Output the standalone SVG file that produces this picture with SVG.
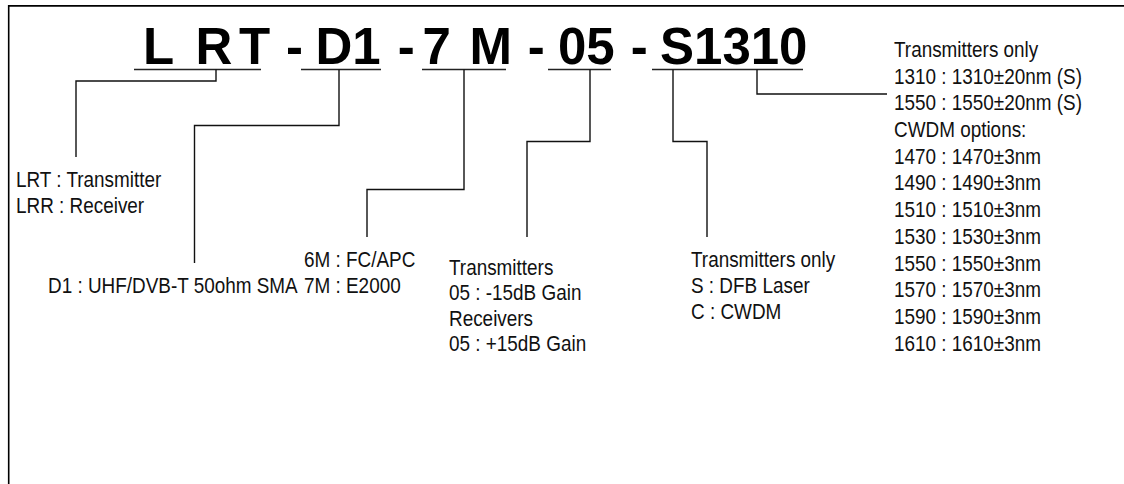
<svg xmlns="http://www.w3.org/2000/svg" width="1124" height="484" viewBox="0 0 1124 484">
<style>
.title{font-family:"Liberation Sans",Arial,sans-serif;font-weight:bold;font-size:51px;fill:#000}
.lbl{font-family:"Liberation Sans",Arial,sans-serif;font-size:22px;fill:#111}
.ul{stroke:#222;stroke-width:1.3;fill:none}
.conn{stroke:#111;stroke-width:1.4;fill:none}
.frame{stroke:#000;fill:none}
</style>
<rect x="0" y="0" width="1124" height="484" fill="#fff"/>
<g id="frame">
<line class="frame" x1="8" y1="5.8" x2="1124" y2="5.8" stroke-width="1.8"/>
<line class="frame" x1="8.7" y1="5" x2="8.7" y2="484" stroke-width="1.6"/>
</g>
<g id="title">
<text class="title" y="64"><tspan x="143">L</tspan><tspan x="195.4">R</tspan><tspan x="239">T</tspan><tspan x="286">-</tspan><tspan x="315.5">D1</tspan><tspan x="397.7">-</tspan><tspan x="422.4">7</tspan><tspan x="469.6">M</tspan><tspan x="527.7">-</tspan><tspan x="558">05</tspan><tspan x="630.7">-</tspan><tspan x="660">S1310</tspan></text>
<line class="ul" x1="134" y1="69.5" x2="261" y2="69.5"/>
<line class="ul" x1="301" y1="69.5" x2="381" y2="69.5"/>
<line class="ul" x1="422" y1="69.5" x2="506" y2="69.5"/>
<line class="ul" x1="548" y1="69.5" x2="611" y2="69.5"/>
<line class="ul" x1="652" y1="69.5" x2="803" y2="69.5"/>
</g>
<g id="connectors">
<path class="conn" d="M216,69.5 V81 H76 V157"/>
<path class="conn" d="M339,69.5 V125.5 H194.5 V263"/>
<path class="conn" d="M464,69.5 V189.5 H367 V237"/>
<path class="conn" d="M590,69.5 V141.5 H527 V237"/>
<path class="conn" d="M673,69.5 V141.5 H707 V237"/>
<path class="conn" d="M757,69.5 V94 H887"/>
</g>
<g id="node-type" transform="translate(16,0) scale(0.86,1)">
<text class="lbl" x="0" y="187">LRT : Transmitter</text>
<text class="lbl" x="0" y="213">LRR : Receiver</text>
</g>
<g id="node-d1" transform="translate(48,0) scale(0.86,1)">
<text class="lbl" x="0" y="293">D1 : UHF/DVB-T 50ohm SMA</text>
</g>
<g id="node-connector" transform="translate(304,0) scale(0.86,1)">
<text class="lbl" x="0" y="267">6M : FC/APC</text>
<text class="lbl" x="0" y="293">7M : E2000</text>
</g>
<g id="node-gain" transform="translate(449,0) scale(0.86,1)">
<text class="lbl" x="0" y="275">Transmitters</text>
<text class="lbl" x="0" y="300.5">05 : -15dB Gain</text>
<text class="lbl" x="0" y="326">Receivers</text>
<text class="lbl" x="0" y="351.5">05 : +15dB Gain</text>
</g>
<g id="node-laser" transform="translate(691,0) scale(0.86,1)">
<text class="lbl" x="0" y="267">Transmitters only</text>
<text class="lbl" x="0" y="293">S : DFB Laser</text>
<text class="lbl" x="0" y="319">C : CWDM</text>
</g>
<g id="node-wavelength" transform="translate(894,0) scale(0.86,1)">
<text class="lbl" x="0" y="57">Transmitters only</text>
<text class="lbl" x="0" y="83.7">1310 : 1310±20nm (S)</text>
<text class="lbl" x="0" y="110.4">1550 : 1550±20nm (S)</text>
<text class="lbl" x="0" y="137.1">CWDM options:</text>
<text class="lbl" x="0" y="163.8">1470 : 1470±3nm</text>
<text class="lbl" x="0" y="190.5">1490 : 1490±3nm</text>
<text class="lbl" x="0" y="217.2">1510 : 1510±3nm</text>
<text class="lbl" x="0" y="243.9">1530 : 1530±3nm</text>
<text class="lbl" x="0" y="270.6">1550 : 1550±3nm</text>
<text class="lbl" x="0" y="297.3">1570 : 1570±3nm</text>
<text class="lbl" x="0" y="324">1590 : 1590±3nm</text>
<text class="lbl" x="0" y="350.7">1610 : 1610±3nm</text>
</g>
</svg>
